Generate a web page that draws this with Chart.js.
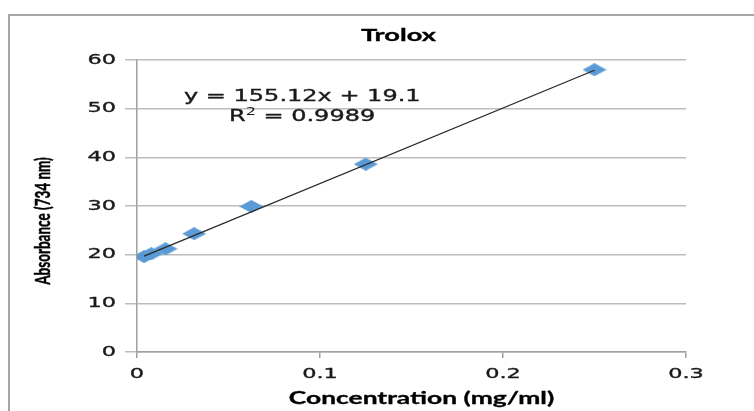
<!DOCTYPE html>
<html>
<head>
<meta charset="utf-8">
<script src="https://cdn.jsdelivr.net/npm/chart.js@4/dist/chart.umd.min.js"></script>
<style>
  html, body { margin: 0; padding: 0; background: #fff; overflow: hidden; }
  #wrap { width: 754px; height: 411px; }
</style>
</head>
<body>
<div id="wrap"><canvas id="c" width="754" height="411"></canvas></div>
<script>
// Trolox calibration: concentration (mg/ml) vs absorbance at 734 nm
const concentrations = [0.0039, 0.0078, 0.0156, 0.03125, 0.0625, 0.125, 0.25];
const absorbances    = [19.6, 20.2, 21.2, 24.3, 29.9, 38.6, 58.0];

// Linear fit reported on the chart
const fitSlope = 155.12;
const fitIntercept = 19.1;
const fitR2 = '0.9989';

const yTicks = [0, 10, 20, 30, 40, 50, 60];
const xTicks = [0, 0.1, 0.2, 0.3];

const titleText = 'Trolox';
const xTitle = 'Concentration (mg/ml)';
const yTitle = 'Absorbance (734 nm)';

// Text in this chart is drawn wide, so every label gets a horizontal stretch
const STRETCH = 1.6;

const scatterPoints = concentrations.map((x, i) => ({ x, y: absorbances[i] }));
const xMin = Math.min(...concentrations), xMax = Math.max(...concentrations);
const trendPoints = [xMin, xMax].map(x => ({ x, y: fitSlope * x + fitIntercept }));

// flattened diamond marker
function diamond(w, h, color) {
  const cv = document.createElement('canvas');
  cv.width = w; cv.height = h;
  const g = cv.getContext('2d');
  g.fillStyle = color;
  g.beginPath();
  g.moveTo(w / 2, 0); g.lineTo(w, h / 2); g.lineTo(w / 2, h); g.lineTo(0, h / 2);
  g.closePath(); g.fill();
  return cv;
}
const marker = diamond(24, 13, '#5b9bd5');

// draws text widened horizontally, with a faint outline for weight
function wideText(ctx, text, x, y, font, align, heavy) {
  ctx.save();
  ctx.translate(x, y);
  ctx.scale(STRETCH, 1);
  ctx.font = font;
  ctx.textAlign = align;
  ctx.textBaseline = 'middle';
  ctx.fillText(text, 0, 0);
  if (heavy) {
    ctx.lineWidth = heavy;
    ctx.strokeStyle = ctx.fillStyle;
    ctx.strokeText(text, 0, 0);
  }
  ctx.restore();
}

const textPlugin = {
  id: 'textPlugin',
  beforeDraw(chart) {
    const ctx = chart.ctx;
    ctx.save();
    ctx.strokeStyle = '#a6a6a6';
    ctx.lineWidth = 2;
    ctx.beginPath();
    ctx.moveTo(9, 411);
    ctx.lineTo(9, 15);
    ctx.lineTo(754, 15);
    ctx.stroke();
    ctx.restore();
  },
  afterDraw(chart) {
    const ctx = chart.ctx;
    const xs = chart.scales.x, ys = chart.scales.y;
    const area = chart.chartArea;
    ctx.save();
    ctx.fillStyle = '#1a1a1a';
    // tick labels
    ys.ticks.forEach((t, i) => {
      wideText(ctx, String(t.value), ys.right - 21, ys.getPixelForTick(i), '14px "DejaVu Sans"', 'right', 0.35);
    });
    xs.ticks.forEach((t, i) => {
      const lbl = String(Number(t.value.toFixed(2)));
      wideText(ctx, lbl, xs.getPixelForTick(i), area.bottom + 22, '14px "DejaVu Sans"', 'center', 0.35);
    });
    // titles
    ctx.fillStyle = '#000';
    wideText(ctx, titleText, (area.left + area.right) / 2 - 13, 36, 'bold 17px Lato', 'center', 0.3);
    wideText(ctx, xTitle, (area.left + area.right) / 2 + 10, 399, 'bold 16.5px Lato', 'center', 0.3);
    // rotated y title: stretch applies across the glyph height
    ctx.save();
    ctx.translate(43, 221);
    ctx.scale(STRETCH, 1);
    ctx.rotate(-Math.PI / 2);
    ctx.font = 'bold 13.5px Lato';
    ctx.textAlign = 'center';
    ctx.textBaseline = 'middle';
    ctx.fillText(yTitle, 0, 0);
    ctx.lineWidth = 0.3;
    ctx.strokeStyle = '#000';
    ctx.strokeText(yTitle, 0, 0);
    ctx.restore();
    // fit equation
    ctx.fillStyle = '#1a1a1a';
    const eq = 'y = ' + fitSlope.toFixed(2) + 'x + ' + fitIntercept;
    wideText(ctx, eq, 184, 97, '15px "DejaVu Sans"', 'left', 0.35);
    // R² with superscript
    ctx.save();
    ctx.translate(229, 117);
    ctx.scale(STRETCH, 1);
    ctx.textBaseline = 'middle';
    ctx.textAlign = 'left';
    ctx.strokeStyle = '#1a1a1a';
    ctx.lineWidth = 0.35;
    ctx.font = '15px "DejaVu Sans"';
    ctx.fillText('R', 0, 0); ctx.strokeText('R', 0, 0);
    let w = ctx.measureText('R').width;
    ctx.font = '10px "DejaVu Sans"';
    ctx.fillText('2', w, -5);
    w += ctx.measureText('2').width;
    ctx.font = '15px "DejaVu Sans"';
    const rest = ' = ' + fitR2;
    ctx.fillText(rest, w, 0); ctx.strokeText(rest, w, 0);
    ctx.restore();
    ctx.restore();
  }
};

new Chart(document.getElementById('c'), {
  type: 'scatter',
  data: {
    datasets: [
      {
        type: 'line',
        label: 'Linear fit',
        data: trendPoints,
        borderColor: '#262626',
        borderWidth: 1.2,
        pointRadius: 0,
        fill: false,
        order: 0
      },
      {
        label: 'Trolox',
        data: scatterPoints,
        pointStyle: marker,
        pointRadius: 8,
        pointHoverRadius: 8,
        backgroundColor: '#5b9bd5',
        borderWidth: 0,
        order: 1
      }
    ]
  },
  options: {
    responsive: false,
    animation: false,
    events: [],
    layout: { padding: { left: 0, right: 68, top: 60, bottom: 0 } },
    plugins: {
      legend: { display: false },
      title: { display: false },
      tooltip: { enabled: false }
    },
    scales: {
      x: {
        type: 'linear',
        min: xTicks[0],
        max: xTicks[xTicks.length - 1],
        afterBuildTicks: s => { s.ticks = xTicks.map(v => ({ value: v })); },
        ticks: { display: false },
        grid: { drawOnChartArea: false, tickLength: 6, color: '#a0a0a0', lineWidth: 1.5 },
        border: { color: '#a0a0a0', width: 1.5 },
        afterFit: s => { s.height = 59; }
      },
      y: {
        type: 'linear',
        min: yTicks[0],
        max: yTicks[yTicks.length - 1],
        afterBuildTicks: s => { s.ticks = yTicks.map(v => ({ value: v })); },
        ticks: { display: false },
        grid: { color: '#bdbdbd', lineWidth: 1.5, tickLength: 12 },
        border: { color: '#a0a0a0', width: 1.5 },
        afterFit: s => { s.width = 137; }
      }
    }
  },
  plugins: [textPlugin]
});
</script>
</body>
</html>
